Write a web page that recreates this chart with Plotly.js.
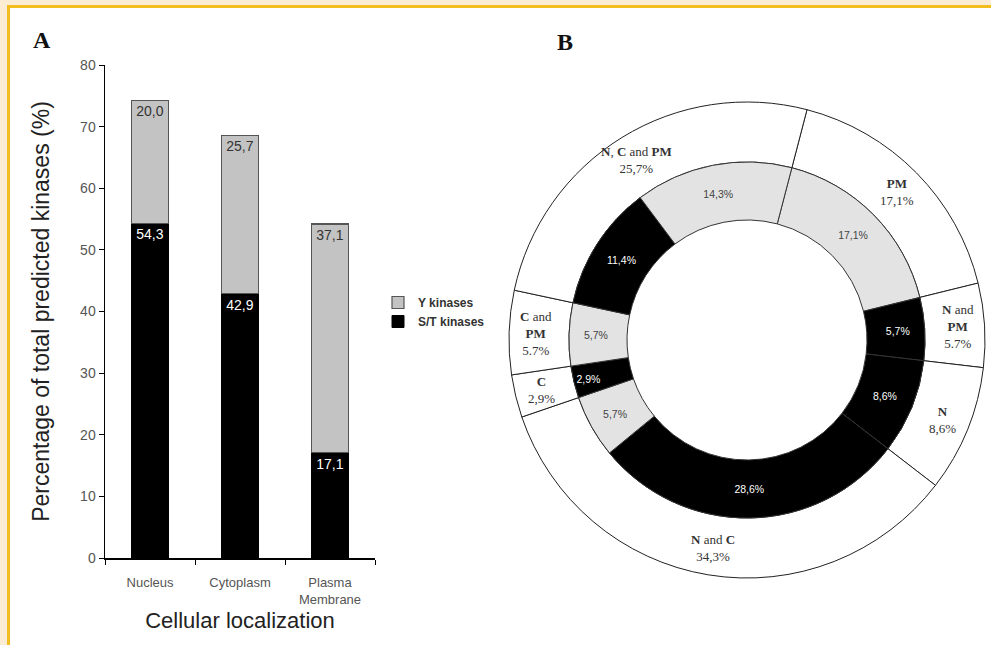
<!DOCTYPE html>
<html>
<head>
<meta charset="utf-8">
<script src="https://cdn.plot.ly/plotly-3.0.1.min.js"></script>
<style>
  html, body { margin: 0; padding: 0; background: #ffffff; }
  #chart { width: 991px; height: 645px; }
</style>
</head>
<body>
<div id="chart"></div>
<script>
// ---------- Panel A data ----------
const categories = ["Nucleus", "Cytoplasm", "Plasma<br>Membrane"];
const stValues = [54.3, 42.9, 17.1];   // S/T kinases
const yValues  = [20.0, 25.7, 37.1];   // Y kinases
const stText = ["54,3", "42,9", "17,1"];
const yText  = ["20,0", "25,7", "37,1"];
const yTicks = [0, 10, 20, 30, 40, 50, 60, 70, 80];

// ---------- Panel B data (clockwise, starting at PM) ----------
const outerNames  = ["PM", "N and PM", "N", "N and C", "C", "C and PM", "N, C and PM"];
const outerValues = [17.1, 5.7, 8.6, 34.3, 2.9, 5.7, 25.7];
const outerLabels = [
  "<b>PM</b><br>17,1%",
  "<b>N</b> and<br><b>PM</b><br>5.7%",
  "<b>N</b><br>8,6%",
  "<b>N</b> and <b>C</b><br>34,3%",
  "<b>C</b><br>2,9%",
  "<b>C</b> and<br><b>PM</b><br>5.7%",
  "<b>N</b>, <b>C</b> and <b>PM</b><br>25,7%"
];
const innerNames  = ["PM Y", "N and PM S/T", "N S/T", "N and C S/T", "N and C Y", "C S/T", "C and PM Y", "N, C and PM S/T", "N, C and PM Y"];
const innerValues = [17.1, 5.7, 8.6, 28.6, 5.7, 2.9, 5.7, 11.4, 14.3];
const innerKinase = ["Y", "S/T", "S/T", "S/T", "Y", "S/T", "Y", "S/T", "Y"];
const innerText   = ["17,1%", "5,7%", "8,6%", "28,6%", "5,7%", "2,9%", "5,7%", "11,4%", "14,3%"];

// ---------- styling ----------
const W = 991, H = 645;
const GRAY = "#c3c3c3", BLACK = "#000000";
const px = x => x / W, py = y => 1 - y / H;

// donut geometry (pixels)
const cx = 747, cy = 340, R_out = 238, R_mid = 178, R_in = 120, startAngle = 14.6;

const traces = [
  {
    type: "bar", x: categories, y: stValues, name: "S/T kinases",
    marker: { color: BLACK, line: { color: "#000", width: 1 } },
    width: 0.41, text: stText, textposition: "inside", insidetextanchor: "end",
    textangle: 0, textfont: { color: "#ffffff", size: 14, family: "Liberation Sans, Arial" },
    cliponaxis: false, hoverinfo: "none"
  },
  {
    type: "bar", x: categories, y: yValues, name: "Y kinases",
    marker: { color: GRAY, line: { color: "#555", width: 1.2 } },
    width: 0.41, text: yText, textposition: "inside", insidetextanchor: "end",
    textangle: 0, textfont: { color: "#333333", size: 14, family: "Liberation Sans, Arial" },
    hoverinfo: "none"
  },
  {
    type: "pie", values: outerValues, labels: outerNames, sort: false,
    direction: "clockwise", rotation: startAngle, hole: R_mid / R_out,
    domain: { x: [px(cx - R_out), px(cx + R_out)], y: [py(cy + R_out), py(cy - R_out)] },
    marker: { colors: outerValues.map(() => "#ffffff"), line: { color: "#222", width: 1 } },
    textinfo: "none", showlegend: false, hoverinfo: "none"
  },
  {
    type: "pie", values: innerValues, labels: innerNames, sort: false,
    direction: "clockwise", rotation: startAngle, hole: R_in / R_mid,
    domain: { x: [px(cx - R_mid), px(cx + R_mid)], y: [py(cy + R_mid), py(cy - R_mid)] },
    marker: { colors: innerKinase.map(k => k === "Y" ? "#e3e3e3" : BLACK), line: { color: "#333", width: 1 } },
    text: innerText, textinfo: "text", textposition: "inside", insidetextorientation: "horizontal",
    textfont: { size: 10.5, family: "Liberation Sans, Arial", color: innerKinase.map(k => k === "Y" ? "#444" : "#fff") },
    showlegend: false, hoverinfo: "none"
  }
];

// outer labels placed at the slice mid angle
const total = outerValues.reduce((a, b) => a + b, 0);
let cum = 0;
const annotations = outerValues.map((v, i) => {
  const mid = startAngle + (cum + v / 2) / total * 360;
  cum += v;
  const a = mid * Math.PI / 180, r = 211;
  return {
    x: px(cx + r * Math.sin(a)), y: py(cy - r * Math.cos(a)), xref: "paper", yref: "paper",
    text: outerLabels[i], showarrow: false, xanchor: "center", yanchor: "middle",
    font: { family: "Liberation Serif, Times New Roman", size: 13, color: "#333" }
  };
});
annotations.push(
  { x: px(42), y: py(40), xref: "paper", yref: "paper", text: "<b>A</b>", showarrow: false,
    xanchor: "center", yanchor: "middle",
    font: { family: "Liberation Serif", size: 24, color: "#111" } },
  { x: px(565), y: py(42), xref: "paper", yref: "paper", text: "<b>B</b>", showarrow: false,
    xanchor: "center", yanchor: "middle",
    font: { family: "Liberation Serif", size: 24, color: "#111" } }
);

const layout = {
  width: W, height: H,
  margin: { l: 0, r: 0, t: 0, b: 0 },
  paper_bgcolor: "#ffffff", plot_bgcolor: "#ffffff",
  barmode: "stack", bargap: 0.59,
  showlegend: true,
  legend: {
    x: px(378), y: py(288), xanchor: "left", yanchor: "top",
    traceorder: "reversed", itemwidth: 30,
    font: { family: "Liberation Sans, Arial", size: 12, color: "#333", weight: "bold" },
    bgcolor: "rgba(0,0,0,0)", tracegroupgap: 6
  },
  xaxis: {
    domain: [px(105), px(375)], range: [-0.5, 2.5], type: "category",
    showline: true, linecolor: "#000", linewidth: 1.5,
    ticks: "outside", tickson: "boundaries", ticklen: 5, tickcolor: "#000",
    ticklabelstandoff: 12,
    tickfont: { family: "Liberation Sans, Arial", size: 13, color: "#555" },
    showgrid: false, zeroline: false, fixedrange: true,
    title: { text: "Cellular localization", standoff: 6,
      font: { family: "Liberation Sans, Arial", size: 22, color: "#222" } }
  },
  yaxis: {
    domain: [py(558), py(65)], range: [0, 80], tickvals: yTicks,
    showline: true, linecolor: "#000", linewidth: 1.5,
    ticks: "outside", ticklen: 5, tickcolor: "#000",
    tickfont: { family: "Liberation Sans, Arial", size: 14, color: "#555" },
    showgrid: false, zeroline: false, fixedrange: true,
    title: { text: "Percentage of total predicted kinases (%)", standoff: 24,
      font: { family: "Liberation Sans, Arial", size: 23, color: "#222" } }
  },
  shapes: [
    { type: "rect", xref: "paper", yref: "paper", x0: 0, x1: 1, y0: py(5), y1: 1, fillcolor: "#fcecd3", line: { width: 0 } },
    { type: "rect", xref: "paper", yref: "paper", x0: 0, x1: px(7), y0: 0, y1: 1, fillcolor: "#fcecd3", line: { width: 0 } },
    { type: "rect", xref: "paper", yref: "paper", x0: px(7), x1: 1, y0: py(8), y1: py(5), fillcolor: "#f2bd1f", line: { width: 0 } },
    { type: "rect", xref: "paper", yref: "paper", x0: px(7), x1: px(10), y0: 0, y1: py(5), fillcolor: "#f2bd1f", line: { width: 0 } }
  ],
  annotations: annotations
};

Plotly.newPlot("chart", traces, layout, { staticPlot: true, displayModeBar: false });
</script>
</body>
</html>
